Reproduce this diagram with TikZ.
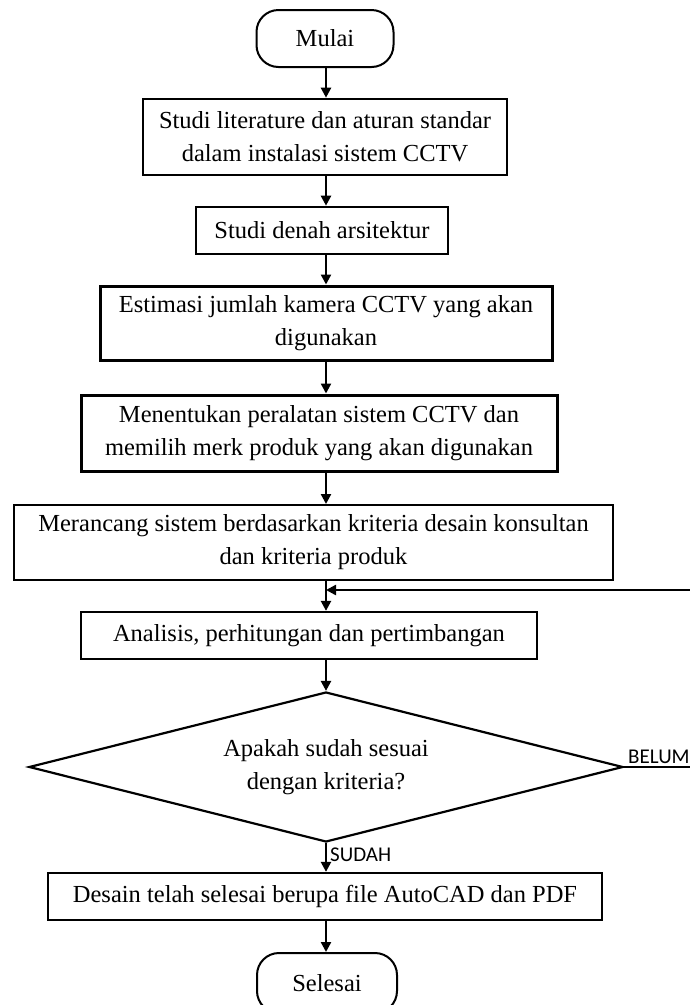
\documentclass[tikz,border=0pt]{standalone}
\usepackage{fontspec}
\setmainfont{Liberation Serif}
\newfontfamily\lblfont{Carlito}
\usetikzlibrary{shapes.geometric,arrows.meta}
\begin{document}
\begin{tikzpicture}[x=1pt,y=-1pt,
  every node/.style={font=\fontsize{24.5}{33}\selectfont},
  box/.style={draw,line width=2.3pt,rectangle,inner sep=0pt,align=center},
  term/.style={draw,line width=2pt,rounded corners=22pt,inner sep=0pt},
  dec/.style={draw,diamond,shape aspect=4,line width=2.2pt,inner sep=0pt,align=center},
  arr/.style={line width=2.3pt,-{Triangle[length=10pt,width=10pt]}},
  lbl/.style={font=\lblfont\fontsize{21}{24}\selectfont,inner sep=0pt}]
\useasboundingbox (0,0) rectangle (690,1005);
\fill[white] (0,0) rectangle (690,1005);
\clip (0,0) rectangle (690,1005);
\coordinate (ax) at (326,0);
\node[term,minimum width=137pt,minimum height=57pt] (mulai) at (325,38.5) {Mulai};
\node[box,line width=2.6pt,minimum width=364pt,minimum height=76pt] (b1) at (325,137) {Studi literature dan aturan standar\\dalam instalasi sistem CCTV};
\node[box,line width=2.6pt,minimum width=252pt,minimum height=47pt] (b2) at (322,230.5) {Studi denah arsitektur};
\node[box,line width=3pt,minimum width=452pt,minimum height=74pt] (b3) at (326,323) {Estimasi jumlah kamera CCTV yang akan\\digunakan};
\node[box,line width=3pt,minimum width=476pt,minimum height=76pt] (b4) at (319,433) {Menentukan peralatan sistem CCTV dan\\memilih merk produk yang akan digunakan};
\node[box,line width=2pt,minimum width=599pt,minimum height=75pt] (b5) at (313.5,542.5) {Merancang sistem berdasarkan kriteria desain konsultan\\dan kriteria produk};
\node[box,minimum width=456pt,minimum height=47pt] (b6) at (309,635.5) {Analisis, perhitungan dan pertimbangan};
\node[dec,minimum width=594pt,minimum height=150pt] (d) at (326,767) {Apakah sudah sesuai\\dengan kriteria?};
\node[box,minimum width=554pt,minimum height=47pt] (b7) at (325,896.5) {Desain telah selesai berupa file AutoCAD dan PDF};
\node[term,minimum width=140pt,minimum height=60pt] (sel) at (327,983) {Selesai};
\draw[arr] (mulai.south -| ax) -- (b1.north -| ax);
\draw[arr] (b1.south -| ax) -- (b2.north -| ax);
\draw[arr] (b2.south -| ax) -- (b3.north -| ax);
\draw[arr] (b3.south -| ax) -- (b4.north -| ax);
\draw[arr] (b4.south -| ax) -- (b5.north -| ax);
\draw[arr] (b5.south -| ax) -- (b6.north -| ax);
\draw[arr] (b6.south -| ax) -- (d.north);
\draw[arr] (d.south) -- (b7.north -| ax);
\draw[arr] (b7.south -| ax) -- (sel.north -| ax);
\coordinate (fb1) at (720,767);
\coordinate (fb2) at (720,590);
\draw[arr] (d.east) -- (fb1) -- (fb2) -- (fb2 -| ax);
\node[lbl,anchor=base west] (belum) at (628,763) {BELUM};
\node[lbl,anchor=base west] (sudah) at (330,861) {SUDAH};
\end{tikzpicture}
\end{document}
